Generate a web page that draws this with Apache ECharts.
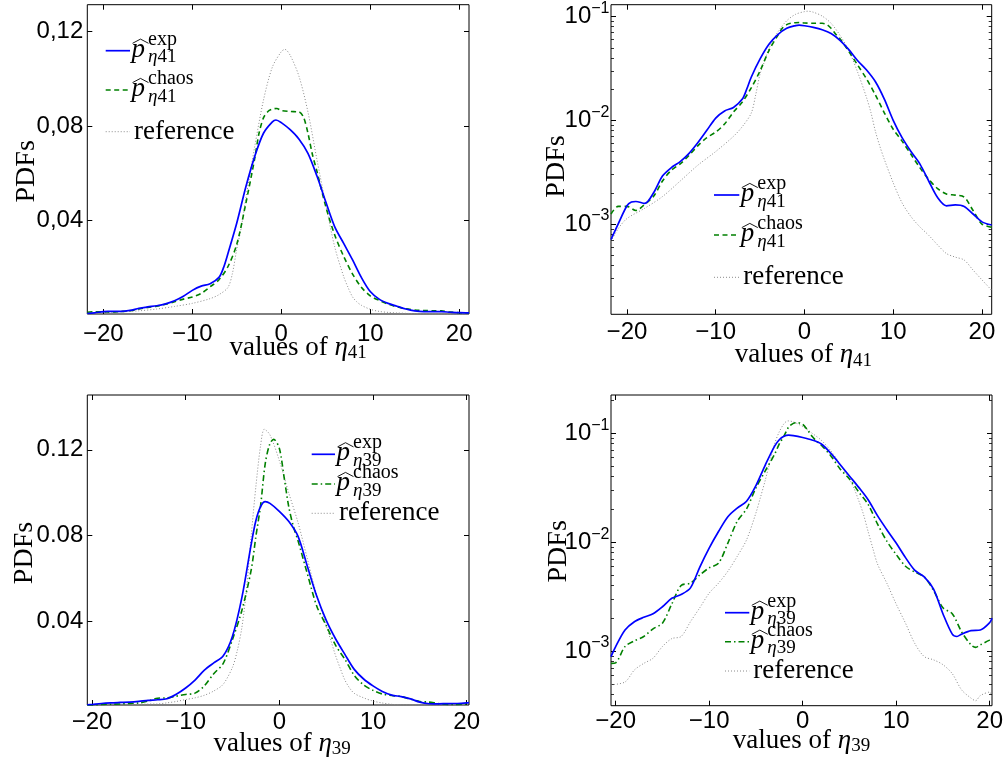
<!DOCTYPE html>
<html><head><meta charset="utf-8">
<script src="https://cdn.jsdelivr.net/npm/echarts@6/dist/echarts.min.js"></script>
<style>html,body{margin:0;padding:0;background:#fff}#c{width:1007px;height:760px}</style>
</head><body><div id="c"></div>
<script>
// ---- tick labels ----
const xTickValues = [-20, -10, 0, 10, 20];
const linTickValues = [0.04, 0.08, 0.12];
const logTickValues = [0.001, 0.01, 0.1];

// ---- eta41 (top row) ----
const eta41ExpX = [-21.8,-21,-20,-19.5,-19,-18,-17,-16,-15,-14,-13,-12,-11,-10,-9,-8,-7,-6.5,-6,-5,-4,-3,-2,-1,-0.6,0,1,2,3,4,5,6,7,8,9,10,11,12,13,14,15,16,17,18,19,20,21.1];
const eta41ExpY = [0.00071,0.0010,0.00150,0.00163,0.00165,0.00158,0.0020,0.0029,0.0035,0.0040,0.0048,0.0061,0.0080,0.0105,0.0123,0.0133,0.0160,0.020,0.026,0.039,0.054,0.067,0.077,0.0818,0.0826,0.0815,0.0785,0.0745,0.0685,0.059,0.048,0.0375,0.0305,0.0235,0.0160,0.0100,0.0068,0.0050,0.0038,0.0026,0.0018,0.00150,0.00153,0.00148,0.00125,0.00105,0.00098];
const eta41ChaosX = [-21.8,-21,-20,-19,-18,-17,-16,-15,-14,-13,-12,-11,-10,-9,-8,-7,-6,-5,-4,-3,-2.5,-2,-1.5,-1,-0.5,0,1,2,2.5,3,3.5,4,5,6,7,8,9,10,11,12,13,14,15,16,17,18,19,20,21.1];
const eta41ChaosY = [0.00125,0.00148,0.00148,0.00135,0.00155,0.00185,0.0026,0.0033,0.0038,0.0046,0.0057,0.0068,0.0077,0.0092,0.0120,0.0150,0.0205,0.030,0.047,0.066,0.077,0.0835,0.0862,0.0872,0.0875,0.0866,0.0862,0.0860,0.0838,0.077,0.068,0.061,0.046,0.034,0.025,0.0175,0.0118,0.0082,0.0063,0.0047,0.0035,0.0027,0.0022,0.00195,0.0019,0.00182,0.00135,0.0010,0.00093];
const eta41RefX = [-21.8,-21,-20,-18,-16,-14,-12,-10,-8,-7,-6,-5.5,-5,-4.5,-4,-3,-2,-1,0,0.4,1,2,3,4,5,6,7,7.5,8,8.5,9,10,11,12,13,14,15,16,17,18,19,20,21.1];
const eta41RefY = [0.00068,0.0009,0.00113,0.00142,0.00184,0.0026,0.0037,0.0050,0.0070,0.0087,0.0117,0.0175,0.028,0.037,0.049,0.071,0.091,0.105,0.1115,0.1125,0.110,0.101,0.086,0.066,0.047,0.029,0.0165,0.0118,0.0078,0.0056,0.0042,0.0025,0.0016,0.00118,0.00094,0.00078,0.00063,0.00052,0.00048,0.00045,0.00036,0.00029,0.00023];

// ---- eta39 (bottom row) ----
const eta39ExpX = [-20.5,-20,-19,-18,-17,-16,-15,-14,-13,-12,-11,-10,-9,-8,-7,-6,-5,-4,-3,-2.5,-2,-1.5,-1,0,1,2,3,4,5,6,7,8,9,10,11,12,13,14,15,16,16.5,17,18,19,20,20.25];
const eta39ExpY = [0.00089,0.0011,0.00156,0.00186,0.00204,0.0022,0.00255,0.00305,0.0033,0.0038,0.0059,0.0088,0.0125,0.0171,0.0205,0.0237,0.033,0.051,0.076,0.087,0.0935,0.0958,0.095,0.0913,0.0866,0.0796,0.0655,0.0516,0.0405,0.0318,0.0245,0.0175,0.0130,0.0098,0.0072,0.0055,0.0048,0.0037,0.0022,0.00143,0.00136,0.00143,0.00154,0.00156,0.00182,0.0020];
const eta39ChaosX = [-20.5,-20,-19,-18,-17,-16,-15,-14,-13,-12,-11,-10,-9,-8,-7,-6,-5,-4,-3,-2.5,-2,-1.5,-1,-0.6,0,0.5,1,1.5,2,3,4,5,6,7,8,9,10,11,12,13,14,15,16,17,18,18.5,19,20,20.25];
const eta39ChaosY = [0.00077,0.00078,0.0011,0.00124,0.00136,0.0016,0.0018,0.0027,0.0040,0.0042,0.0050,0.0058,0.0064,0.0098,0.0155,0.0202,0.0315,0.045,0.064,0.0796,0.094,0.1137,0.123,0.1249,0.1207,0.1075,0.0936,0.0842,0.0775,0.062,0.047,0.038,0.0288,0.0222,0.0147,0.0102,0.0077,0.0060,0.0053,0.0048,0.0036,0.0025,0.0022,0.0015,0.00114,0.00108,0.00114,0.00126,0.00128];
const eta39RefX = [-20.5,-19,-18,-17,-16,-15,-14,-13,-12,-11,-10,-9,-8,-7,-6,-5,-4.5,-4,-3.5,-3,-2.5,-2,-1.6,-1,0,1,2,3,4,5,5.5,6,6.5,7,7.5,8,9,10,11,12,13,14,15,16,17,18,18.5,19,20,20.25];
const eta39RefY = [0.00049,0.00052,0.00067,0.00077,0.00086,0.0011,0.0013,0.00136,0.00186,0.0025,0.0034,0.0042,0.0054,0.0074,0.0105,0.0185,0.026,0.037,0.055,0.080,0.103,0.122,0.1296,0.127,0.115,0.100,0.086,0.069,0.052,0.038,0.031,0.024,0.018,0.0125,0.0088,0.0063,0.0042,0.0027,0.0018,0.00117,0.00089,0.00083,0.00075,0.00062,0.00044,0.00037,0.00035,0.00039,0.00042,0.00037];

const zip = (xs, ys) => xs.map((x, i) => [x, ys[i]]);
const sets = {
  '41': { exp: zip(eta41ExpX, eta41ExpY), chaos: zip(eta41ChaosX, eta41ChaosY), ref: zip(eta41RefX, eta41RefY) },
  '39': { exp: zip(eta39ExpX, eta39ExpY), chaos: zip(eta39ChaosX, eta39ChaosY), ref: zip(eta39RefX, eta39RefY) }
};

const SERIF = 'Liberation Serif', SANS = 'Liberation Sans';
const BLUE = '#0000ff', GREEN = '#008000', GRAY = '#8a8a8a';

const panels = [
  { grid: {left: 87.3, top: 4.7, width: 381.7, height: 309.3}, xr: [-21.8, 21.1], log: false, yr: [0.0005, 0.1314], dec: ',',
    set: '41', greenDash: [5, 3.5], xm: 8, nameGapX: 19, nameShiftX: 20, nameGapY: 47, pdfShift: 12,
    leg: {x0: 105.7, x1: 130, ys: [50.7, 90, 131.7]} },
  { grid: {left: 611, top: 4.7, width: 380.7, height: 309.6}, xr: [-21.8, 21.1], log: true, yr: [1.35e-4, 0.13],
    set: '41', greenDash: [5, 3.5], xm: 6.5, nameGapX: 26, nameShiftX: 2, nameGapY: 40, pdfShift: 7,
    leg: {x0: 714, x1: 739.3, ys: [195, 235, 277.3]} },
  { grid: {left: 87.3, top: 395, width: 381.7, height: 310.7}, xr: [-20.5, 20.25], log: false, yr: [0.00086, 0.1456], dec: '.',
    set: '39', greenDash: [6, 3, 1.5, 3], xm: 5.5, nameGapX: 24, nameShiftX: 4, nameGapY: 48.5, pdfShift: 3,
    leg: {x0: 311.7, x1: 335, ys: [454.3, 484, 513.3]} },
  { grid: {left: 611, top: 395, width: 381, height: 310.7}, xr: [-20.5, 20.25], log: true, yr: [3.15e-4, 0.224],
    set: '39', greenDash: [6, 3, 1.5, 3], xm: 4, nameGapX: 20, nameShiftX: 0, nameGapY: 38.5, pdfShift: 1,
    leg: {x0: 725, x1: 749.3, ys: [612.7, 641.7, 671]} }
];

function minorLogTicks(lo, hi) {
  const out = [];
  for (let e = -5; e <= 0; e++) for (let m = 2; m <= 9; m++) {
    const v = m * Math.pow(10, e);
    if (v > lo && v < hi) out.push(v);
  }
  return out;
}

const grids = [], xAxes = [], yAxes = [], series = [], graphics = [];
const tickBase = {inside: true, length: 5, lineStyle: {color: '#000', width: 1}};
const noLine = {show: false, onZero: false};

panels.forEach((P, i) => {
  grids.push(Object.assign({show: true, borderColor: '#000', borderWidth: 1, backgroundColor: 'transparent'}, P.grid));
  const xi = xAxes.length;
  xAxes.push({
    gridIndex: i, type: 'value', position: 'bottom', min: P.xr[0], max: P.xr[1],
    axisLine: noLine, splitLine: {show: false},
    axisTick: Object.assign({customValues: xTickValues}, tickBase),
    axisLabel: {customValues: xTickValues, margin: P.xm, color: '#000', fontFamily: SANS, fontSize: 24, lineHeight: 24,
      formatter: v => (v < 0 ? '\u2212' + (-v) : String(v))},
    name: '{t|values of }{i|\u03b7}{s|' + P.set + '}', nameLocation: 'middle', nameGap: P.nameGapX, nameMoveOverlap: false,
    nameTextStyle: {padding: [0, 0, 0, 2 * P.nameShiftX], rich: {
      t: {fontFamily: SERIF, fontSize: 27, lineHeight: 30, color: '#000'},
      i: {fontFamily: SERIF, fontStyle: 'italic', fontSize: 27, lineHeight: 30, color: '#000'},
      s: {fontFamily: SERIF, fontSize: 19, lineHeight: 19, padding: [11, 0, 0, 0], color: '#000'}
    }}
  });
  xAxes.push({gridIndex: i, type: 'value', position: 'top', min: P.xr[0], max: P.xr[1],
    axisLine: noLine, splitLine: {show: false}, axisLabel: {show: false},
    axisTick: Object.assign({customValues: xTickValues}, tickBase)});

  const yi = yAxes.length;
  const yType = P.log ? 'log' : 'value';
  const majors = P.log ? logTickValues : linTickValues;
  const yLabel = P.log ? {
      customValues: majors, margin: 1.5, color: '#000',
      formatter: v => '{b|10}{s|\u2212' + Math.round(-Math.log10(v)) + '}',
      rich: {b: {fontFamily: SANS, fontSize: 24, padding: [4, 0, 4, 0], color: '#000'},
             s: {fontFamily: SANS, fontSize: 16, lineHeight: 17, verticalAlign: 'top', color: '#000'}}
    } : {
      customValues: majors, margin: 4, color: '#000', fontFamily: SANS, fontSize: 24,
      formatter: v => v.toFixed(2).replace('.', P.dec)
    };
  yAxes.push({
    gridIndex: i, type: yType, logBase: 10, position: 'left', min: P.yr[0], max: P.yr[1],
    axisLine: noLine, splitLine: {show: false},
    axisTick: Object.assign({customValues: majors}, tickBase),
    axisLabel: yLabel,
    name: 'PDFs', nameLocation: 'middle', nameRotate: 90, nameGap: P.nameGapY, nameMoveOverlap: false,
    nameTextStyle: {fontFamily: SERIF, fontSize: 28, color: '#000', padding: [0, 2 * P.pdfShift, 0, 0]}
  });
  yAxes.push({gridIndex: i, type: yType, logBase: 10, position: 'right', min: P.yr[0], max: P.yr[1],
    axisLine: noLine, splitLine: {show: false}, axisLabel: {show: false},
    axisTick: Object.assign({customValues: majors}, tickBase)});
  if (P.log) {
    const minors = minorLogTicks(P.yr[0], P.yr[1]);
    ['left', 'right'].forEach(pos => yAxes.push({gridIndex: i, type: 'log', logBase: 10, position: pos, min: P.yr[0], max: P.yr[1],
      axisLine: noLine, splitLine: {show: false}, axisLabel: {show: false},
      axisTick: {inside: true, length: 3, customValues: minors, lineStyle: {color: '#000', width: 0.8}}}));
  }

  const S = sets[P.set];
  const common = {type: 'line', xAxisIndex: xi, yAxisIndex: yi, showSymbol: false, smooth: 0.3, animation: false, clip: true};
  series.push(Object.assign({name: 'reference', data: S.ref, lineStyle: {color: GRAY, width: 1, type: [1, 2]}, itemStyle: {color: GRAY}, z: 2}, common));
  series.push(Object.assign({name: 'chaos', data: S.chaos, lineStyle: {color: GREEN, width: 1.6, type: P.greenDash}, itemStyle: {color: GREEN}, z: 3}, common));
  series.push(Object.assign({name: 'exp', data: S.exp, lineStyle: {color: BLUE, width: 1.7, type: 'solid'}, itemStyle: {color: BLUE}, z: 4}, common));

  // legend (drawn as graphic elements to reproduce the stacked super/subscripts)
  const L = P.leg;
  const mid = (base, f) => base - 0.32 * f;
  const lineStyles = [
    {stroke: BLUE, lineWidth: 1.7},
    {stroke: GREEN, lineWidth: 1.6, lineDash: P.greenDash},
    {stroke: GRAY, lineWidth: 1, lineDash: [1, 2]}
  ];
  L.ys.forEach((y, k) => graphics.push({type: 'line', silent: true, shape: {x1: L.x0, y1: y, x2: L.x1, y2: y}, style: lineStyles[k]}));
  ['exp', 'chaos'].forEach((sup, k) => {
    const y = L.ys[k], px = L.x1 + 1.5;
    graphics.push({type: 'text', silent: true, style: {x: px, y: mid(y + 7.6, 27), text: 'p', fontFamily: SERIF, fontStyle: 'italic', fontSize: 27, fill: '#000', align: 'left', verticalAlign: 'middle'}});
    graphics.push({type: 'polyline', silent: true, shape: {points: [[px + 1, y - 7.4], [px + 9, y - 11.6], [px + 17, y - 7.4]]}, style: {stroke: '#000', lineWidth: 0.9, fill: null}});
    graphics.push({type: 'text', silent: true, style: {x: px + 16.5, y: mid(y - 4.7, 20), text: sup, fontFamily: SERIF, fontSize: 20, fill: '#000', align: 'left', verticalAlign: 'middle'}});
    graphics.push({type: 'text', silent: true, style: {x: px + 16.5, y: mid(y + 12.6, 19), text: '{i|\u03b7}{r|' + P.set + '}', align: 'left', verticalAlign: 'middle',
      rich: {i: {fontFamily: SERIF, fontStyle: 'italic', fontSize: 19, fill: '#000'}, r: {fontFamily: SERIF, fontSize: 19, fill: '#000'}}}});
  });
  graphics.push({type: 'text', silent: true, style: {x: L.x1 + 4, y: mid(L.ys[2] + 8.5, 27), text: 'reference', fontFamily: SERIF, fontSize: 27, fill: '#000', align: 'left', verticalAlign: 'middle'}});
});

const chart = echarts.init(document.getElementById('c'), null, {renderer: 'canvas'});
chart.setOption({
  backgroundColor: '#fff', animation: false,
  grid: grids, xAxis: xAxes, yAxis: yAxes, series: series,
  graphic: {elements: graphics}
});
</script></body></html>
